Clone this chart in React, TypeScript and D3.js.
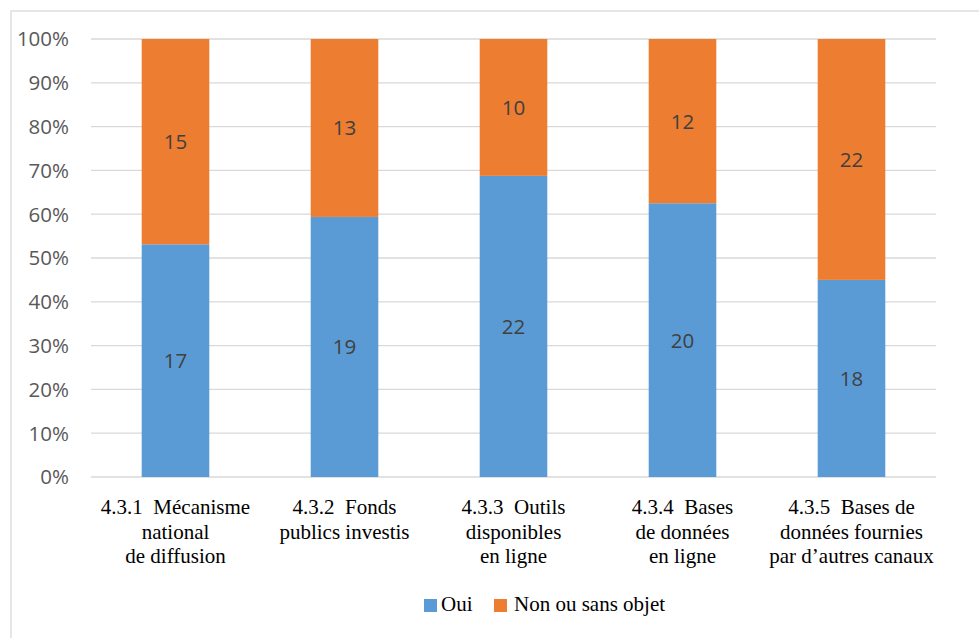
import React from "react";
import * as d3 from "d3";

const categories: string[][] = [
  ["4.3.1  Mécanisme", "national", "de diffusion"],
  ["4.3.2  Fonds", "publics investis"],
  ["4.3.3  Outils", "disponibles", "en ligne"],
  ["4.3.4  Bases", "de données", "en ligne"],
  ["4.3.5  Bases de", "données fournies", "par d’autres canaux"],
];
const oui = [17, 19, 22, 20, 18];
const non = [15, 13, 10, 12, 22];
const seriesNames = ["Oui", "Non ou sans objet"];
const colors = ["#5B9BD5", "#ED7D31"];
const yTicks = [0, 0.1, 0.2, 0.3, 0.4, 0.5, 0.6, 0.7, 0.8, 0.9, 1];

const W = 979;
const H = 638;
const left = 91;
const right = 936;
const top = 39;
const bottom = 477;

export default function App() {
  const x = d3
    .scaleBand<number>()
    .domain(d3.range(categories.length))
    .range([left, right])
    .paddingInner(0.6)
    .paddingOuter(0.3);
  const y = d3.scaleLinear().domain([0, 1]).range([bottom, top]);
  const fmt = d3.format(".0%");
  const sans = "'Open Sans', sans-serif";
  const serif = "'Liberation Serif', 'Times New Roman', serif";

  const rows = categories.map((c, i) => {
    const total = oui[i] + non[i];
    return { i, vals: [oui[i], non[i]], total };
  });

  return (
    <svg
      width={W}
      height={H}
      style={{ position: "absolute", left: 0, top: 0, background: "#fff" }}
    >
      <rect x={11} y={11} width={W + 10} height={H + 10} fill="#fff" stroke="#D9D9D9" strokeWidth={1.3} />
      {yTicks.map((t) => (
        <g key={t}>
          <line x1={left} x2={right} y1={y(t)} y2={y(t)} stroke="#D9D9D9" strokeWidth={1.3} />
          <text x={69} y={y(t)} dy="0.36em" textAnchor="end" fontFamily={sans} fontSize={20.5} fill="#595959">
            {fmt(t)}
          </text>
        </g>
      ))}
      {rows.map((r) => {
        let acc = 0;
        return (
          <g key={r.i}>
            {r.vals.map((v, s) => {
              const y0 = acc / r.total;
              acc += v;
              const y1 = acc / r.total;
              const ya = y(y1);
              const yb = y(y0);
              return (
                <g key={s}>
                  <rect x={x(r.i)!} width={x.bandwidth()} y={ya} height={yb - ya} fill={colors[s]} />
                  <text
                    x={x(r.i)! + x.bandwidth() / 2}
                    y={(ya + yb) / 2}
                    dy="0.36em"
                    textAnchor="middle"
                    fontFamily={sans}
                    fontSize={20.5}
                    fill="#404040"
                  >
                    {v}
                  </text>
                </g>
              );
            })}
            {categories[r.i].map((line, k) => (
              <text
                key={k}
                x={x(r.i)! + x.bandwidth() / 2}
                y={514 + k * 24.5}
                textAnchor="middle"
                fontFamily={serif}
                fontSize={21}
                fill="#000"
                style={{ whiteSpace: "pre" }}
              >
                {line}
              </text>
            ))}
          </g>
        );
      })}
      <g>
        <rect x={424} y={599} width={13} height={13} fill={colors[0]} />
        <text x={441} y={611} fontFamily={serif} fontSize={21} fill="#000">
          {seriesNames[0]}
        </text>
        <rect x={494} y={599} width={13} height={13} fill={colors[1]} />
        <text x={514} y={611} fontFamily={serif} fontSize={21} fill="#000">
          {seriesNames[1]}
        </text>
      </g>
    </svg>
  );
}
